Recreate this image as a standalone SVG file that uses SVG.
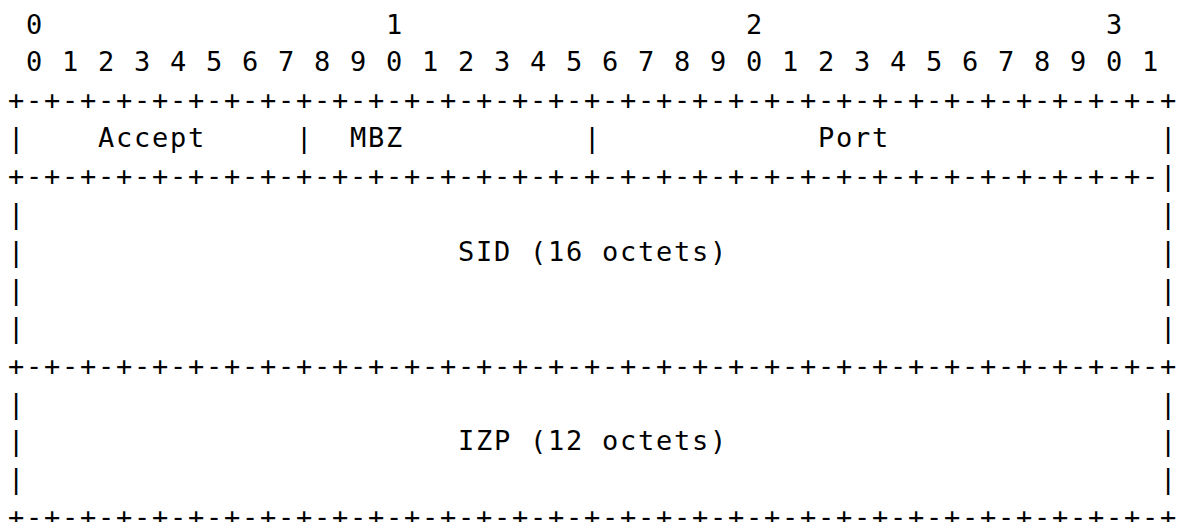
<svg xmlns="http://www.w3.org/2000/svg" width="1180" height="522" viewBox="0 0 1180 522">
<style>
text{font-family:"DejaVu Sans Mono","Liberation Mono",monospace;font-size:27px;letter-spacing:1.745px;fill:#000}
</style>
<rect width="1180" height="522" fill="#fff"/>
<g id="bit-ruler">
<text x="26" y="33.5">0</text>
<text x="386" y="33.5">1</text>
<text x="746" y="33.5">2</text>
<text x="1106" y="33.5">3</text>
<text x="26" y="71.4">0 1 2 3 4 5 6 7 8 9 0 1 2 3 4 5 6 7 8 9 0 1 2 3 4 5 6 7 8 9 0 1</text>
</g>
<g id="connectors">
<text x="8" y="109.3">+-+-+-+-+-+-+-+-+-+-+-+-+-+-+-+-+-+-+-+-+-+-+-+-+-+-+-+-+-+-+-+-+</text>
<text x="8" y="185.1">+-+-+-+-+-+-+-+-+-+-+-+-+-+-+-+-+-+-+-+-+-+-+-+-+-+-+-+-+-+-+-+-|</text>
<text x="8" y="374.6">+-+-+-+-+-+-+-+-+-+-+-+-+-+-+-+-+-+-+-+-+-+-+-+-+-+-+-+-+-+-+-+-+</text>
<text x="8" y="526.2">+-+-+-+-+-+-+-+-+-+-+-+-+-+-+-+-+-+-+-+-+-+-+-+-+-+-+-+-+-+-+-+-+</text>
</g>
<g id="field-accept">
<text x="8" y="147.2">|</text>
<text x="98" y="147.2">Accept</text>
</g>
<g id="field-mbz">
<text x="296" y="147.2">|</text>
<text x="350" y="147.2">MBZ</text>
</g>
<g id="field-port">
<text x="584" y="147.2">|</text>
<text x="818" y="147.2">Port</text>
<text x="1160" y="147.2">|</text>
</g>
<g id="field-sid">
<text x="8" y="223">|</text><text x="1160" y="223">|</text>
<text x="8" y="260.9">|</text><text x="1160" y="260.9">|</text>
<text x="458" y="260.9">SID (16 octets)</text>
<text x="8" y="298.8">|</text><text x="1160" y="298.8">|</text>
<text x="8" y="336.7">|</text><text x="1160" y="336.7">|</text>
</g>
<g id="field-izp">
<text x="8" y="412.5">|</text><text x="1160" y="412.5">|</text>
<text x="8" y="450.4">|</text><text x="1160" y="450.4">|</text>
<text x="458" y="450.4">IZP (12 octets)</text>
<text x="8" y="488.3">|</text><text x="1160" y="488.3">|</text>
</g>
</svg>
